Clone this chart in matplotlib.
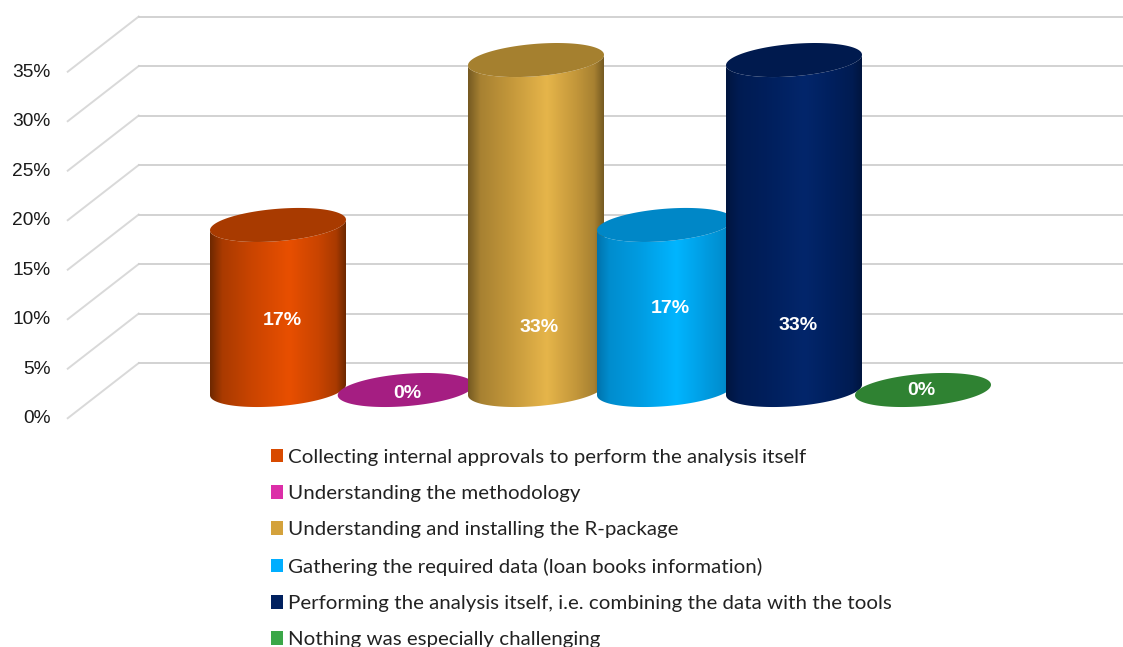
import matplotlib
matplotlib.use('Agg')
import matplotlib.pyplot as plt
import numpy as np
from matplotlib.patches import Patch, Polygon
from matplotlib.colors import LinearSegmentedColormap, to_rgb

categories = [
    'Collecting internal approvals to perform the analysis itself',
    'Understanding the methodology',
    'Understanding and installing the R-package',
    'Gathering the required data (loan books information)',
    'Performing the analysis itself, i.e. combining the data with the tools',
    'Nothing was especially challenging',
]
values = [16.67, 0, 33.33, 16.67, 33.33, 0]
value_labels = ['17%', '0%', '33%', '17%', '33%', '0%']
y_ticks = [0, 5, 10, 15, 20, 25, 30, 35]

positions = [0, 0.99, 2, 3, 4, 5]
label_x = [0.03, 1.0, 2.02, 3.04, 4.03, 4.99]
label_y = [7.0, -0.4, 6.35, 8.2, 6.55, -0.1]

legend_colors = ['#D84A00', '#DC2EA8', '#D4A23C', '#00AEFF', '#00205F', '#3BA748']
edge_colors = ['#6E2800', '#A51E82', '#755A22', '#0073AD', '#00153F', '#2F8232']
mid_colors = ['#C94400', '#A51E82', '#C2963A', '#009BE0', '#001F5C', '#2F8232']
peak_colors = ['#E84F00', '#A51E82', '#E6B54A', '#00B5FF', '#03266B', '#2F8232']
cap_colors = ['#A83A00', '#A51E82', '#A5802F', '#0087C7', '#001A4E', '#2F8232']

half_w = 68 / 129
half_h = 1.72
tilt = 0.53
minor = np.sqrt(half_h ** 2 - tilt ** 2)


def ellipse_points(x, y, t):
    return x + half_w * np.cos(t), y + tilt * np.cos(t) + minor * np.sin(t)


def blend(a, b, w):
    return tuple((1 - w) * np.array(to_rgb(a)) + w * np.array(to_rgb(b)))


def draw_cylinder(ax, x, height, i):
    # side of the cylinder, gradient clipped to the outline
    if height > 0:
        t_low = np.linspace(np.pi, 2 * np.pi, 80)
        t_up = np.linspace(0, -np.pi, 80)
        xb, yb = ellipse_points(x, 0, t_low)
        xt, yt = ellipse_points(x, height, t_up)
        outline = Polygon(np.column_stack([np.r_[xb, xt], np.r_[yb, yt]]),
                          closed=True, fc='none', ec='none', zorder=3 + i)
        ax.add_patch(outline)
        shoulder = blend(edge_colors[i], mid_colors[i], 0.65)
        cmap = LinearSegmentedColormap.from_list('c', [
            (0, edge_colors[i]), (0.09, shoulder), (0.3, mid_colors[i]), (0.58, peak_colors[i]),
            (0.8, mid_colors[i]), (0.93, shoulder), (1, edge_colors[i])])
        img = ax.imshow(np.linspace(0, 1, 256)[None, :], cmap=cmap, aspect='auto',
                        extent=(x - half_w, x + half_w, -half_h - 1, height + half_h),
                        zorder=3 + i, interpolation='bilinear')
        img.set_clip_path(outline)
    t = np.linspace(0, 2 * np.pi, 160)
    xc, yc = ellipse_points(x, height, t)
    ax.fill(xc, yc, color=cap_colors[i], lw=0, zorder=3 + i)


fig = plt.figure(figsize=(11.23, 6.47), dpi=100)
ax = fig.add_axes([0, 0, 1, 1])

# the gridlines run along the side wall and then the back wall
for tick in y_ticks:
    ax.plot([-1.63, -1.08], [tick - 2.85, tick + 2.72], color='#D9D9D9', lw=1.4, zorder=1)
    ax.plot([-1.08, 6.6], [tick + 2.72, tick + 2.72], color='#CFCFCF', lw=1.3, zorder=1)
    ax.text(-1.765, tick - 2.9, f'{tick}%', ha='right', va='center',
            fontsize=13.8, family='Liberation Sans', color='#1A1A1A')

for i, (x, v) in enumerate(zip(positions, values)):
    draw_cylinder(ax, x, v, i)

for lx, ly, text in zip(label_x, label_y, value_labels):
    ax.text(lx, ly, text, ha='center', va='center', color='white', fontsize=14,
            fontweight='bold', family='Liberation Sans', zorder=20)

ax.set_xlim(-278 / 129, 845 / 129)
ax.set_ylim(-257 / 9.9, 390 / 9.9)
ax.axis('off')

handles = [Patch(facecolor=c, edgecolor='none') for c in legend_colors]
leg = ax.legend(handles, categories, loc='upper left',
                bbox_to_anchor=(271 / 1123, 1 - 448.7 / 647), bbox_transform=fig.transFigure,
                frameon=False, borderpad=0, borderaxespad=0, handlelength=0.59,
                handleheight=0.65, handletextpad=0.25, labelspacing=0.94,
                prop={'family': 'Lato', 'size': 14.75})
for text in leg.get_texts():
    text.set_color('#222222')

fig.savefig('out.png', dpi=100)
